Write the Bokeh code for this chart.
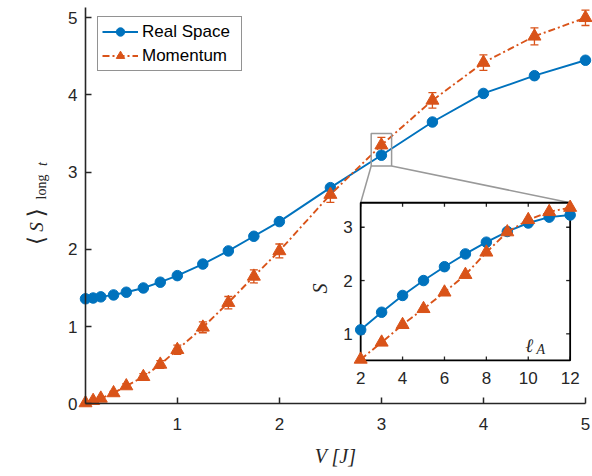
import math
from bokeh.plotting import figure
from bokeh.models import (Range1d, FixedTicker, Whisker, TeeHead, ColumnDataSource,
                          Legend, LegendItem, Label)
from bokeh.core.properties import value
from bokeh.embed import file_html
from bokeh.resources import INLINE

# ---------------- data ----------------
V = [0.1, 0.175, 0.25, 0.375, 0.5, 0.667, 0.833, 1.0, 1.25, 1.5, 1.75, 2.0,
     2.5, 3.0, 3.5, 4.0, 4.5, 5.0]
S_real = [1.36, 1.37, 1.385, 1.41, 1.445, 1.50, 1.575, 1.66, 1.81, 1.98, 2.17, 2.36,
          2.80, 3.22, 3.65, 4.02, 4.25, 4.45]
S_real_err = [0.01, 0.01, 0.01, 0.01, 0.01, 0.015, 0.015, 0.02, 0.02, 0.02, 0.025, 0.025,
              0.03, 0.03, 0.03, 0.03, 0.03, 0.03]
S_mom = [0.01, 0.04, 0.07, 0.14, 0.23, 0.35, 0.51, 0.70, 0.99, 1.31, 1.65, 1.98,
         2.71, 3.35, 3.93, 4.42, 4.76, 5.00]
S_mom_err = [0.005, 0.01, 0.015, 0.02, 0.03, 0.04, 0.05, 0.06, 0.07, 0.08, 0.085, 0.09,
             0.10, 0.10, 0.10, 0.10, 0.11, 0.10]

ell_A = [2, 3, 4, 5, 6, 7, 8, 9, 10, 11, 12]
S_ell_real = [1.075, 1.405, 1.72, 2.00, 2.26, 2.50, 2.72, 2.92, 3.08, 3.19, 3.23]
S_ell_mom = [0.52, 0.84, 1.17, 1.47, 1.78, 2.11, 2.53, 2.91, 3.14, 3.29, 3.37]

x_ticks = [1, 2, 3, 4, 5]
y_ticks = [0, 1, 2, 3, 4, 5]
inset_x_ticks = [2, 4, 6, 8, 10, 12]
inset_y_ticks = [1, 2, 3]

series_names = ["Real Space", "Momentum"]

# ---------------- style ----------------
BLUE = "#0072BD"
ORANGE = "#D95319"
AX = "#262626"
GRAY = "#999999"
SANS = "Liberation Sans"
SERIF = "Liberation Serif"
TICK_FS = "17px"

# axes extents (drawn) and the view window around them (layout)
x_lim = (0.1, 5.0)
y_lim = (0.0, 5.13)
view_x = (-0.733, 5.069)
view_y = (-0.942, 5.224)
zoom_x = (2.9, 3.1)
zoom_y = (3.08, 3.50)
inset_src_x = (2.0, 12.0)
inset_src_y = (0.5, 3.46)
inset_tgt_x = (2.797, 4.85)
inset_tgt_y = (0.561, 2.604)

W, H = 592, 476
p = figure(width=W, height=H, output_backend="svg", toolbar_location=None,
           x_range=Range1d(*view_x), y_range=Range1d(*view_y),
           min_border_left=0, min_border_right=0, min_border_top=0,
           min_border_bottom=0)
p.outline_line_color = None
p.grid.visible = False
p.background_fill_color = "white"
p.border_fill_color = "white"

p.xaxis.fixed_location = y_lim[0]
p.yaxis.fixed_location = x_lim[0]
p.xaxis.bounds = x_lim
p.yaxis.bounds = y_lim
for ax in (p.xaxis[0], p.yaxis[0]):
    ax.axis_line_color = AX
    ax.axis_line_width = 1.6
    ax.major_tick_line_color = AX
    ax.major_tick_line_width = 1.5
    ax.major_tick_in = 6
    ax.major_tick_out = 0
    ax.minor_tick_line_color = None
    ax.major_label_text_font = SANS
    ax.major_label_text_font_size = TICK_FS
    ax.major_label_text_color = AX
p.xaxis.ticker = FixedTicker(ticks=x_ticks)
p.yaxis.ticker = FixedTicker(ticks=y_ticks)
p.xaxis.major_label_standoff = 14
p.yaxis.major_label_standoff = 8

# axis titles
p.add_layout(Label(x=2.55, y=-0.68, text="V [J]", text_font=SERIF,
                   text_font_style="italic", text_font_size="20px", text_color=AX,
                   text_align="center", text_baseline="middle"))
ylabel_parts = [("\u27e8", -0.385, 2.115, "DejaVu Sans", "normal", "23px"),
                ("S", -0.380, 2.290, SERIF, "italic", "19px"),
                ("\u27e9", -0.385, 2.475, "DejaVu Sans", "normal", "23px"),
                ("long", -0.336, 2.808, SERIF, "normal", "14px"),
                ("t", -0.326, 3.106, SERIF, "italic", "14px")]
for txt, lx, ly, fnt, style, fs in ylabel_parts:
    p.text(x=[lx], y=[ly], text=[txt], angle=math.pi / 2,
           text_font=value(fnt), text_font_style=style, text_font_size=fs,
           text_color=AX, text_align="center", text_baseline="alphabetic")

# ---------------- main series ----------------
src_r = ColumnDataSource(dict(x=V, y=S_real,
                              lo=[a - b for a, b in zip(S_real, S_real_err)],
                              up=[a + b for a, b in zip(S_real, S_real_err)]))
src_m = ColumnDataSource(dict(x=V, y=S_mom,
                              lo=[a - b for a, b in zip(S_mom, S_mom_err)],
                              up=[a + b for a, b in zip(S_mom, S_mom_err)]))

for src, col in ((src_r, BLUE), (src_m, ORANGE)):
    w = Whisker(source=src, base="x", lower="lo", upper="up", line_color=col,
                line_width=1.3,
                upper_head=TeeHead(size=8, line_color=col, line_width=1.3),
                lower_head=TeeHead(size=8, line_color=col, line_width=1.3))
    p.add_layout(w)

lr = p.line("x", "y", source=src_r, line_color=BLUE, line_width=1.9)
sr = p.scatter("x", "y", source=src_r, marker="circle", size=10.5,
               fill_color=BLUE, line_color=BLUE)
lm = p.line("x", "y", source=src_m, line_color=ORANGE, line_width=1.9,
            line_dash="7 3 2 3")
sm = p.scatter("x", "y", source=src_m, marker="triangle", size=13,
               fill_color=ORANGE, line_color=ORANGE)

# zoom box + connectors
p.quad(left=[zoom_x[0]], right=[zoom_x[1]], bottom=[zoom_y[0]], top=[zoom_y[1]],
       fill_color=None, line_color=GRAY, line_width=1.5)
p.segment(x0=[zoom_x[0], zoom_x[1]], y0=[zoom_y[0], zoom_y[0]],
          x1=[inset_tgt_x[0], inset_tgt_x[1]], y1=[inset_tgt_y[1], inset_tgt_y[1]],
          line_color=GRAY, line_width=1.5)

legend = Legend(items=[LegendItem(label=series_names[0], renderers=[lr, sr]),
                       LegendItem(label=series_names[1], renderers=[lm, sm])],
                location=(97, 405), padding=4, spacing=3, margin=0,
                glyph_width=36, glyph_height=21, label_height=21, label_width=95,
                label_standoff=4, border_line_color=AX, border_line_width=1.3,
                background_fill_color="white", background_fill_alpha=1.0,
                label_text_font=SANS, label_text_font_size=TICK_FS,
                label_text_color="black")
p.add_layout(legend)

# ---------------- inset ----------------
sub = p.subplot(x_source=Range1d(*inset_src_x), y_source=Range1d(*inset_src_y),
                x_target=Range1d(*inset_tgt_x), y_target=Range1d(*inset_tgt_y))
x0, x1 = inset_src_x
y0, y1 = inset_src_y
sub.quad(left=[x0], right=[x1], bottom=[y0], top=[y1], fill_color="white",
         line_color=None)
tlx = 0.019 * (x1 - x0)
tly = 0.025 * (y1 - y0)
n = len(inset_x_ticks)
sub.segment(x0=inset_x_ticks * 2, x1=inset_x_ticks * 2,
            y0=[y0] * n + [y1] * n, y1=[y0 + tly] * n + [y1 - tly] * n,
            line_color=AX, line_width=1.3)
m = len(inset_y_ticks)
sub.segment(x0=[x0] * m + [x1] * m, x1=[x0 + tlx] * m + [x1 - tlx] * m,
            y0=inset_y_ticks * 2, y1=inset_y_ticks * 2, line_color=AX, line_width=1.3)
sub.quad(left=[x0], right=[x1], bottom=[y0], top=[y1], fill_color=None,
         line_color="black", line_width=1.8)
sub.text(x=inset_x_ticks, y=[y0] * n, text=[str(t) for t in inset_x_ticks],
         text_align="center", text_baseline="top", y_offset=12,
         text_font=value(SANS), text_font_size=TICK_FS, text_color=AX)
sub.text(x=[x0] * m, y=inset_y_ticks, text=[str(t) for t in inset_y_ticks],
         text_align="right", text_baseline="middle", x_offset=-8,
         text_font=value(SANS), text_font_size=TICK_FS, text_color=AX)
sub.text(x=[0.07], y=[1.85], text=["S"], angle=math.pi / 2, text_align="center",
         text_baseline="middle", text_font=value(SERIF), text_font_style="italic",
         text_font_size="20px", text_color=AX)
sub.text(x=[9.86], y=[0.78], text=["\u2113"], text_align="left",
         text_baseline="alphabetic", text_font=value(SERIF), text_font_style="italic",
         text_font_size="19px", text_color=AX)
sub.text(x=[10.39], y=[0.705], text=["A"], text_align="left",
         text_baseline="alphabetic", text_font=value(SERIF), text_font_style="italic",
         text_font_size="14px", text_color=AX)

sub.line(ell_A, S_ell_real, line_color=BLUE, line_width=1.9)
sub.scatter(ell_A, S_ell_real, marker="circle", size=10.5, fill_color=BLUE,
            line_color=BLUE)
sub.line(ell_A, S_ell_mom, line_color=ORANGE, line_width=1.9, line_dash="7 3 2 3")
sub.scatter(ell_A, S_ell_mom, marker="triangle", size=13, fill_color=ORANGE,
            line_color=ORANGE)

open("out.html", "w").write(file_html(p, INLINE))
